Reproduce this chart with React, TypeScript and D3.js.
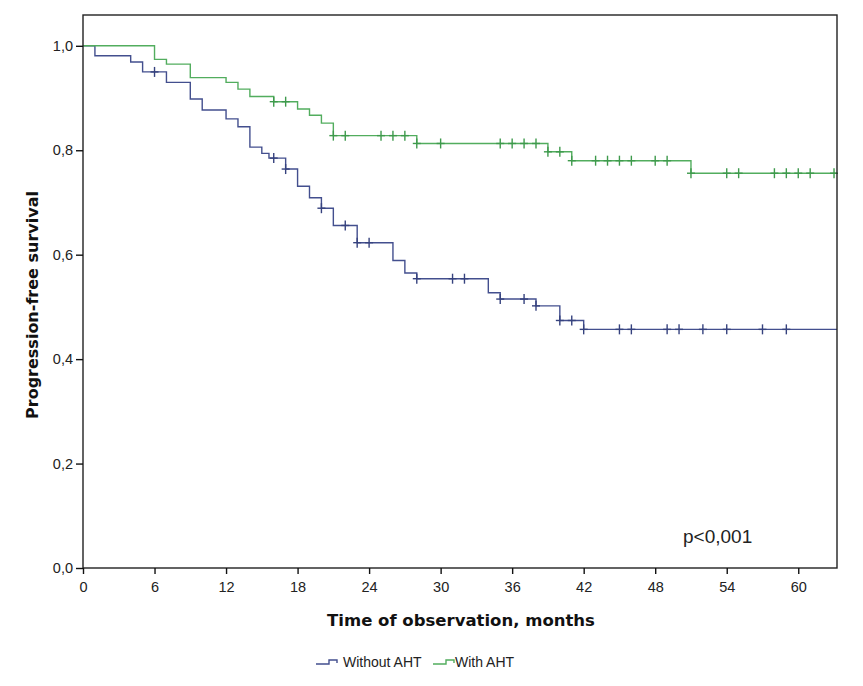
import { useEffect, useRef } from "react";
import * as d3 from "d3";

// Kaplan-Meier steps (months, survival)
const withoutTimes = [0, 1, 4, 5, 7, 9, 10, 12, 13, 14, 15, 15.6, 17, 18, 19, 20, 21, 23, 26, 27, 28, 34, 35, 38, 40, 42];
const withoutSurv = [1, 0.981, 0.969, 0.95, 0.93, 0.898, 0.877, 0.86, 0.845, 0.806, 0.794, 0.785, 0.764, 0.731, 0.709, 0.689, 0.656, 0.623, 0.589, 0.565, 0.554, 0.527, 0.515, 0.502, 0.474, 0.457];
const withoutCensored = [6, 16, 17, 20, 22, 23, 24, 28, 31, 32, 35, 37, 38, 40, 41, 42, 45, 46, 49, 50, 52, 54, 57, 59];

const withTimes = [0, 6, 7, 9, 12, 13, 14, 16, 18, 19, 20, 21, 28, 39, 41, 51];
const withSurv = [1, 0.974, 0.965, 0.939, 0.93, 0.917, 0.903, 0.893, 0.879, 0.867, 0.852, 0.828, 0.813, 0.797, 0.78, 0.756];
const withCensored = [16, 17, 21, 22, 25, 26, 27, 28, 30, 35, 36, 37, 38, 39, 40, 41, 43, 44, 45, 46, 48, 49, 51, 54, 55, 58, 59, 60, 61, 63];

const xTicks = [0, 6, 12, 18, 24, 30, 36, 42, 48, 54, 60];
const yTicks = [0, 0.2, 0.4, 0.6, 0.8, 1.0];
const seriesNames = ["Without AHT", "With AHT"];

const xMax = 63.25;
const yMax = 1.059;

export default function App() {
  const svgRef = useRef<SVGSVGElement>(null);

  useEffect(() => {
    if (!svgRef.current) return;
    const svg = d3.select(svgRef.current);
    svg.selectAll("*").remove();

    const left = 83, right = 837, top = 15, bottom = 568;
    const tickFont = "'Liberation Sans', Arial, sans-serif";
    const titleFont = "'DejaVu Sans', Verdana, sans-serif";

    const x = d3.scaleLinear().domain([0, xMax]).range([left, right]);
    const y = d3.scaleLinear().domain([0, yMax]).range([bottom, top]);

    const series = [
      { times: withoutTimes, surv: withoutSurv, censored: withoutCensored, color: "#434f8e", mark: "#36427e" },
      { times: withTimes, surv: withSurv, censored: withCensored, color: "#52ad5e", mark: "#3e9a4c" },
    ];

    const line = d3
      .line<[number, number]>()
      .x((d) => x(d[0]))
      .y((d) => y(d[1]))
      .curve(d3.curveStepAfter);

    series.forEach((s) => {
      const pts: [number, number][] = s.times.map((t, i) => [t, s.surv[i]]);
      pts.push([xMax, s.surv[s.surv.length - 1]]);
      svg.append("path")
        .attr("d", line(pts))
        .attr("fill", "none")
        .attr("stroke", s.color)
        .attr("stroke-width", 1.4);

      const survAt = (t: number) => s.surv[d3.bisectRight(s.times, t) - 1];
      const marks = svg.append("g").attr("stroke", s.mark).attr("stroke-width", 1.4);
      s.censored.forEach((t) => {
        const cx = x(t), cy = y(survAt(t));
        marks.append("line").attr("x1", cx).attr("x2", cx).attr("y1", cy - 5).attr("y2", cy + 5);
        marks.append("line").attr("x1", cx - 4).attr("x2", cx + 4).attr("y1", cy).attr("y2", cy);
      });
    });

    // frame
    svg.append("rect")
      .attr("x", left).attr("y", top)
      .attr("width", right - left).attr("height", bottom - top)
      .attr("fill", "none").attr("stroke", "#222").attr("stroke-width", 1.4);

    const xAxis = svg.append("g")
      .attr("transform", `translate(0,${bottom})`)
      .call(d3.axisBottom(x).tickValues(xTicks).tickSize(6).tickPadding(8).tickFormat((d) => String(d)));
    xAxis.select(".domain").remove();
    xAxis.selectAll("line").attr("stroke", "#111").attr("stroke-width", 1.4);
    xAxis.selectAll("text").attr("fill", "#222").style("font-size", "14.5px").style("font-family", tickFont);

    const yAxis = svg.append("g")
      .attr("transform", `translate(${left},0)`)
      .call(d3.axisLeft(y).tickValues(yTicks).tickSize(7).tickPadding(3)
        .tickFormat((d) => (d as number).toFixed(1).replace(".", ",")));
    yAxis.select(".domain").remove();
    yAxis.selectAll("line").attr("stroke", "#111").attr("stroke-width", 1.4);
    yAxis.selectAll("text").attr("fill", "#222").style("font-size", "14.5px").style("font-family", tickFont);

    // axis titles
    svg.append("text")
      .attr("transform", `translate(38,305) rotate(-90)`)
      .attr("text-anchor", "middle")
      .style("font-family", titleFont).style("font-weight", "bold").style("font-size", "16px")
      .attr("fill", "#111")
      .text("Progression-free survival");

    svg.append("text")
      .attr("x", 461).attr("y", 626)
      .attr("text-anchor", "middle")
      .style("font-family", titleFont).style("font-weight", "bold").style("font-size", "16.5px")
      .attr("fill", "#111")
      .text("Time of observation, months");

    svg.append("text")
      .attr("x", 683).attr("y", 543)
      .style("font-family", tickFont).style("font-size", "19px")
      .attr("fill", "#222")
      .text("p<0,001");

    // legend
    const legendX = [316, 433];
    seriesNames.forEach((name, i) => {
      const g = svg.append("g").attr("transform", `translate(${legendX[i]},0)`);
      g.append("path")
        .attr("d", "M0,664H13V660H21V663")
        .attr("fill", "none").attr("stroke", series[i].color).attr("stroke-width", 1.4);
      g.append("text")
        .attr("x", i === 0 ? 27 : 22).attr("y", 667)
        .style("font-family", tickFont).style("font-size", "14px")
        .attr("fill", "#222")
        .text(name);
    });
  }, []);

  return (
    <svg
      ref={svgRef}
      width={863}
      height={686}
      style={{ position: "absolute", left: 0, top: 0, background: "#fff" }}
    />
  );
}
